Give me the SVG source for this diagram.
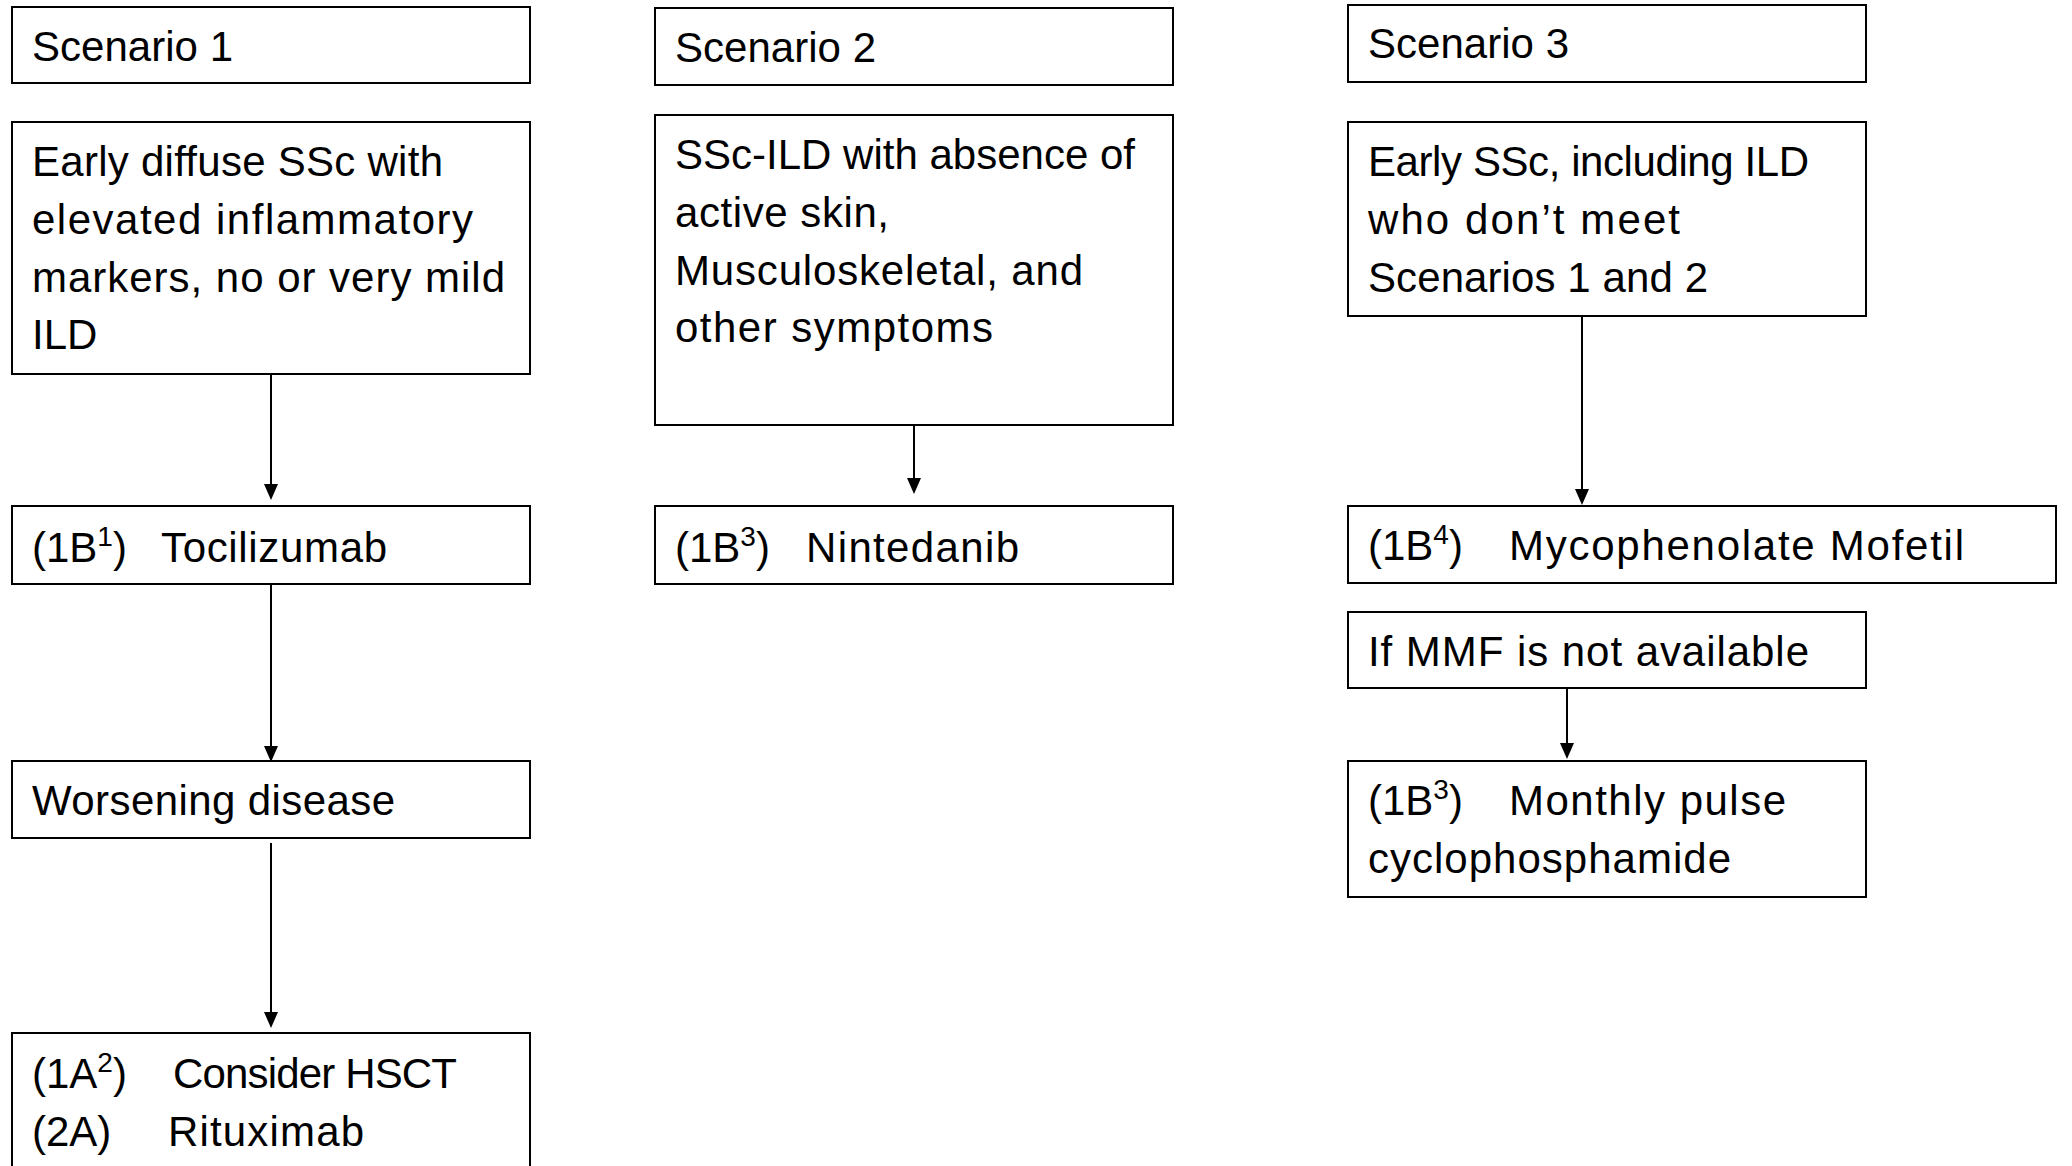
<svg xmlns="http://www.w3.org/2000/svg" width="2072" height="1166" viewBox="0 0 2072 1166">
<defs>
<style>
.box{fill:#fff;stroke:#000;stroke-width:2}
.t{font-family:"Liberation Sans",Arial,sans-serif;font-size:42px;fill:#000}
.sup{font-size:28px}
.conn{stroke:#000;stroke-width:2;fill:none}
.head{fill:#000}
</style>
</defs>
<rect width="2072" height="1166" fill="#fff"/>

<g id="connectors">
<line class="conn" x1="271" y1="374" x2="271" y2="486"/>
<line class="conn" x1="271" y1="584" x2="271" y2="748"/>
<line class="conn" x1="271" y1="843" x2="271" y2="1014"/>
<line class="conn" x1="914" y1="425" x2="914" y2="480"/>
<line class="conn" x1="1582" y1="316" x2="1582" y2="491"/>
<line class="conn" x1="1567" y1="688" x2="1567" y2="745"/>
<path class="head" d="M264,484 L278,484 L271,500 Z"/>
<path class="head" d="M264,746 L278,746 L271,762 Z"/>
<path class="head" d="M264,1012 L278,1012 L271,1028 Z"/>
<path class="head" d="M907,478 L921,478 L914,494 Z"/>
<path class="head" d="M1575,489 L1589,489 L1582,505 Z"/>
<path class="head" d="M1560,743 L1574,743 L1567,759 Z"/>
</g>

<g id="scenario1">
<rect class="box" x="12" y="7" width="518" height="76"/>
<text class="t" x="32" y="61" textLength="201" lengthAdjust="spacing">Scenario 1</text>
</g>
<g id="early-diffuse">
<rect class="box" x="12" y="122" width="518" height="252"/>
<text class="t" x="32" y="176" textLength="411" lengthAdjust="spacing">Early diffuse SSc with</text>
<text class="t" x="32" y="234" textLength="441" lengthAdjust="spacing">elevated inflammatory</text>
<text class="t" x="32" y="292" textLength="473" lengthAdjust="spacing">markers, no or very mild</text>
<text class="t" x="32" y="349">ILD</text>
</g>
<g id="tocilizumab">
<rect class="box" x="12" y="506" width="518" height="78"/>
<text class="t" x="32" y="562">(1B<tspan class="sup" dy="-16">1</tspan><tspan dy="16">)</tspan></text>
<text class="t" x="161" y="562" textLength="226" lengthAdjust="spacing">Tocilizumab</text>
</g>
<g id="worsening">
<rect class="box" x="12" y="761" width="518" height="77"/>
<text class="t" x="32" y="815" textLength="363" lengthAdjust="spacing">Worsening disease</text>
</g>
<g id="hsct">
<rect class="box" x="12" y="1033" width="518" height="150"/>
<text class="t" x="32" y="1088">(1A<tspan class="sup" dy="-16">2</tspan><tspan dy="16">)</tspan></text>
<text class="t" x="173" y="1088" textLength="284" lengthAdjust="spacing">Consider HSCT</text>
<text class="t" x="32" y="1146">(2A)</text>
<text class="t" x="168" y="1146" textLength="196" lengthAdjust="spacing">Rituximab</text>
</g>

<g id="scenario2">
<rect class="box" x="655" y="8" width="518" height="77"/>
<text class="t" x="675" y="62" textLength="201" lengthAdjust="spacing">Scenario 2</text>
</g>
<g id="ssc-ild">
<rect class="box" x="655" y="115" width="518" height="310"/>
<text class="t" x="675" y="169" textLength="460" lengthAdjust="spacing">SSc-ILD with absence of</text>
<text class="t" x="675" y="227" textLength="214" lengthAdjust="spacing">active skin,</text>
<text class="t" x="675" y="285" textLength="408" lengthAdjust="spacing">Musculoskeletal, and</text>
<text class="t" x="675" y="342" textLength="318" lengthAdjust="spacing">other symptoms</text>
</g>
<g id="nintedanib">
<rect class="box" x="655" y="506" width="518" height="78"/>
<text class="t" x="675" y="562">(1B<tspan class="sup" dy="-16">3</tspan><tspan dy="16">)</tspan></text>
<text class="t" x="806" y="562" textLength="213" lengthAdjust="spacing">Nintedanib</text>
</g>

<g id="scenario3">
<rect class="box" x="1348" y="5" width="518" height="77"/>
<text class="t" x="1368" y="58" textLength="201" lengthAdjust="spacing">Scenario 3</text>
</g>
<g id="early-ssc">
<rect class="box" x="1348" y="122" width="518" height="194"/>
<text class="t" x="1368" y="176" textLength="441" lengthAdjust="spacing">Early SSc, including ILD</text>
<text class="t" x="1368" y="234" textLength="312" lengthAdjust="spacing">who don’t meet</text>
<text class="t" x="1368" y="292" textLength="340" lengthAdjust="spacing">Scenarios 1 and 2</text>
</g>
<g id="mmf">
<rect class="box" x="1348" y="506" width="708" height="77"/>
<text class="t" x="1368" y="560">(1B<tspan class="sup" dy="-16">4</tspan><tspan dy="16">)</tspan></text>
<text class="t" x="1509" y="560" textLength="455" lengthAdjust="spacing">Mycophenolate Mofetil</text>
</g>
<g id="mmf-unavailable">
<rect class="box" x="1348" y="612" width="518" height="76"/>
<text class="t" x="1368" y="666" textLength="441" lengthAdjust="spacing">If MMF is not available</text>
</g>
<g id="cyclophosphamide">
<rect class="box" x="1348" y="761" width="518" height="136"/>
<text class="t" x="1368" y="815">(1B<tspan class="sup" dy="-16">3</tspan><tspan dy="16">)</tspan></text>
<text class="t" x="1509" y="815" textLength="277" lengthAdjust="spacing">Monthly pulse</text>
<text class="t" x="1368" y="873" textLength="363" lengthAdjust="spacing">cyclophosphamide</text>
</g>
</svg>
